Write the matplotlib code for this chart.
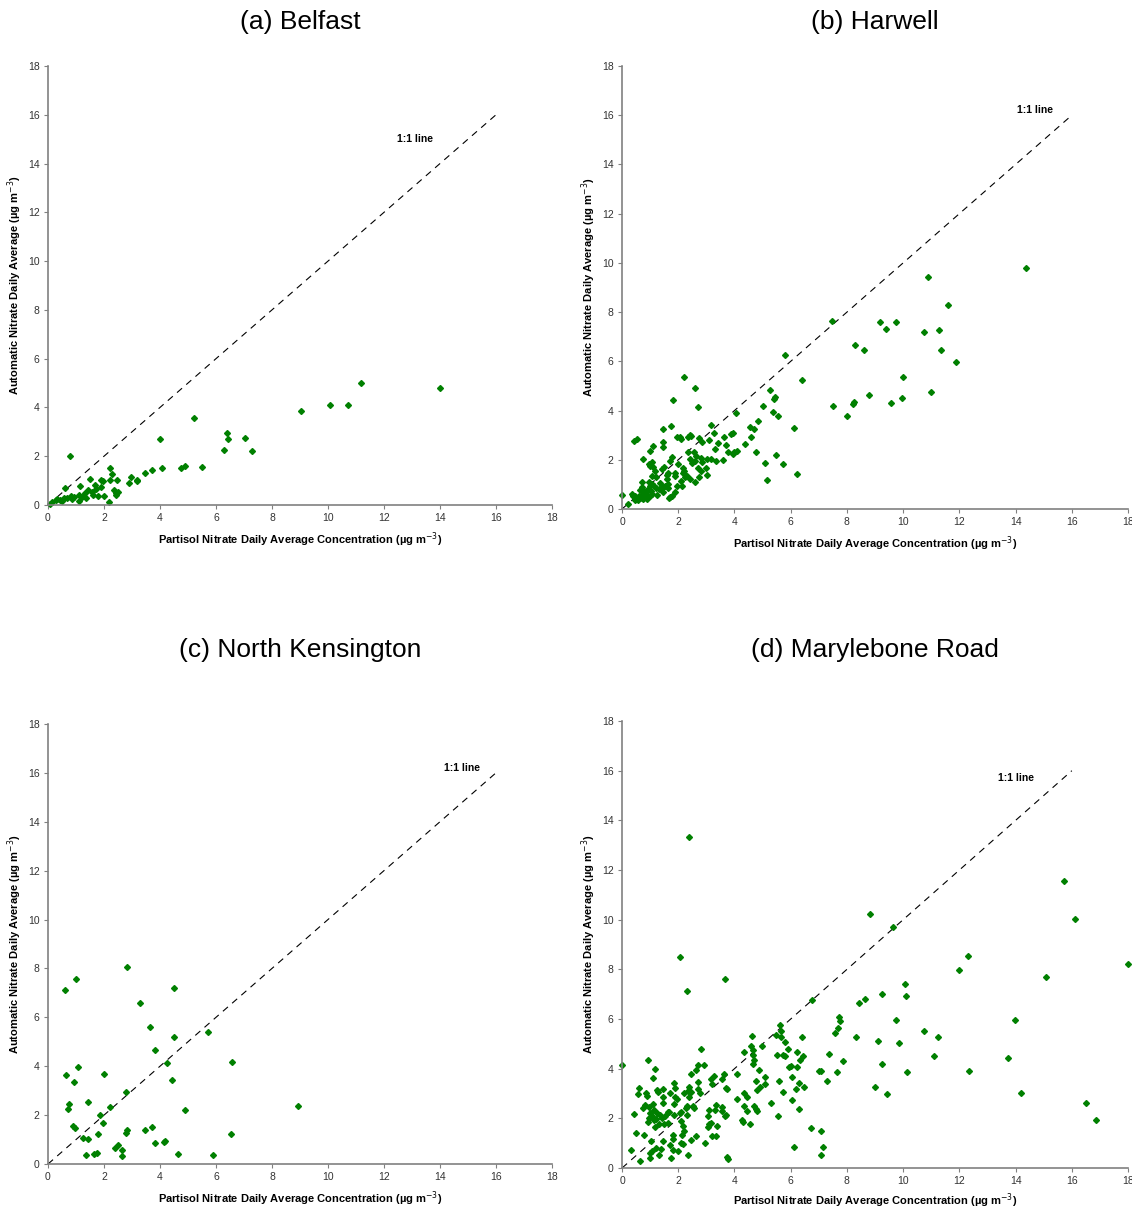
import matplotlib.pyplot as plt

plt.rcParams['font.family'] = ['Liberation Sans', 'DejaVu Sans']

# (a) Belfast
belfast_x = [11.17, 13.99, 9.03, 10.08, 10.73, 5.23, 4.00, 6.40, 6.44, 7.03, 6.29, 7.29,
             0.78, 2.22, 2.28, 2.23, 2.45, 1.49, 1.90, 1.96, 2.95, 3.19, 3.19, 2.88, 3.45,
             3.72, 4.08, 4.74, 4.90, 5.51, 0.61, 1.16, 1.67, 1.89, 1.43, 1.72, 1.56, 2.37,
             2.42, 2.50, 2.43, 1.99, 2.17, 1.77, 1.31, 1.35, 1.11, 1.09, 0.93, 0.81, 0.69,
             0.57, 0.42, 0.27, 0.16, 0.06, 0.33, 0.51, 0.87, 1.21, 1.59]
belfast_y = [4.99, 4.78, 3.86, 4.08, 4.12, 3.55, 2.71, 2.96, 2.71, 2.75, 2.25, 2.23,
             2.00, 1.51, 1.29, 1.01, 1.01, 1.07, 1.04, 1.00, 1.14, 1.03, 0.97, 0.89, 1.30,
             1.42, 1.52, 1.51, 1.60, 1.55, 0.70, 0.77, 0.84, 0.75, 0.62, 0.67, 0.52, 0.62,
             0.48, 0.53, 0.42, 0.38, 0.11, 0.38, 0.48, 0.27, 0.41, 0.18, 0.34, 0.37, 0.27,
             0.27, 0.21, 0.21, 0.14, 0.04, 0.26, 0.18, 0.23, 0.34, 0.41]

# (b) Harwell
harwell_x = [14.37, 10.87, 11.58, 7.47, 9.19, 9.73, 9.40, 10.74, 11.28, 11.34, 8.30, 8.59,
             11.88, 5.79, 6.41, 10.01, 8.79, 10.98, 8.24, 8.21, 7.52, 9.58, 9.96, 8.00,
             2.22, 2.61, 2.70, 1.81, 5.27, 5.39, 5.44, 5.38, 5.54, 5.01, 4.05, 4.83, 4.56,
             4.69, 6.10, 4.60, 4.75, 4.37, 5.10, 5.49, 5.71, 6.22, 5.14, 3.18, 3.27, 3.40,
             3.30, 3.09, 2.86, 2.74, 2.40, 2.34, 2.46, 1.94, 2.10, 1.74, 1.45, 1.44, 1.44,
             1.10, 0.99, 0.42, 0.53, 0.74, 3.64, 3.70, 3.76, 3.88, 3.93, 3.93, 4.00, 4.08,
             3.59, 3.34, 3.16, 3.04, 2.82, 2.86, 2.58, 2.48, 2.40, 2.36, 2.55, 2.62, 2.70,
             2.82, 3.00, 3.02, 2.74, 2.58, 2.41, 2.32, 2.16, 2.20, 2.17, 2.24, 2.15, 2.10,
             1.99, 1.70, 1.79, 1.88, 1.88, 1.94, 1.89, 1.76, 1.66, 1.71, 1.65, 1.65, 1.59,
             1.60, 1.63, 1.48, 1.41, 1.19, 1.22, 1.07, 1.10, 1.01, 1.07, 0.97, 1.08, 1.15,
             1.36, 1.45, 1.31, 1.53, 1.46, 1.25, 1.07, 0.95, 0.98, 0.89, 0.78, 0.71, 0.65,
             0.72, 0.75, 0.59, 0.47, 0.40, 0.36, 0.46, 0.57, 0.65, 0.75, 0.82, 0.87, 0.90,
             0.99, 0.00, 0.21, 2.06, 0.60, 0.85, 1.02, 1.20, 0.70, 0.55]
harwell_y = [9.80, 9.42, 8.30, 7.64, 7.61, 7.61, 7.31, 7.18, 7.26, 6.46, 6.68, 6.46,
             5.96, 6.24, 5.26, 5.38, 4.62, 4.74, 4.35, 4.26, 4.20, 4.31, 4.50, 3.77,
             5.38, 4.93, 4.15, 4.42, 4.85, 4.46, 4.54, 3.96, 3.78, 4.20, 3.92, 3.58, 3.32,
             3.26, 3.28, 2.93, 2.31, 2.65, 1.88, 2.19, 1.82, 1.42, 1.19, 3.42, 3.08, 2.70,
             2.43, 2.80, 2.73, 2.88, 2.99, 2.92, 2.95, 2.93, 2.84, 3.39, 3.23, 2.74, 2.50,
             2.54, 2.34, 2.76, 2.84, 2.05, 2.93, 2.62, 2.32, 3.05, 3.08, 2.23, 2.30, 2.36,
             1.99, 1.96, 2.04, 2.04, 2.07, 1.89, 1.97, 1.86, 2.04, 2.32, 2.32, 2.16, 1.65,
             1.54, 1.66, 1.38, 1.28, 1.11, 1.22, 1.35, 1.66, 1.55, 1.45, 1.32, 0.92, 1.12,
             1.84, 1.97, 2.11, 1.45, 1.36, 0.92, 0.70, 0.54, 0.43, 0.49, 0.85, 1.03, 1.22,
             1.39, 1.46, 1.70, 1.62, 1.54, 1.30, 1.36, 1.69, 1.76, 1.89, 1.84, 1.03, 0.92,
             1.05, 0.89, 0.81, 0.93, 0.70, 0.58, 0.61, 1.11, 0.95, 0.76, 0.65, 0.91, 0.78,
             1.08, 0.72, 0.51, 0.51, 0.54, 0.62, 0.38, 0.35, 0.43, 0.41, 0.49, 0.59, 0.41,
             0.51, 0.55, 0.20, 2.93, 0.45, 0.60, 0.75, 0.85, 0.55, 0.40]

# (c) North Kensington
kensington_x = [2.82, 1.01, 0.61, 4.49, 3.28, 3.66, 4.49, 5.73, 3.81, 4.25, 6.56, 1.06,
                0.66, 2.00, 0.92, 4.44, 2.80, 0.74, 0.73, 1.42, 2.23, 4.90, 8.94, 1.84,
                1.96, 0.91, 0.97, 3.71, 2.82, 2.79, 3.47, 1.78, 6.55, 1.25, 1.43, 4.19,
                4.16, 3.81, 2.49, 2.40, 2.66, 2.65, 1.36, 1.65, 1.74, 4.65, 5.91]
kensington_y = [8.07, 7.58, 7.10, 7.22, 6.58, 5.59, 5.19, 5.38, 4.68, 4.14, 4.19, 3.97,
                3.66, 3.67, 3.34, 3.44, 2.95, 2.45, 2.25, 2.53, 2.32, 2.19, 2.36, 2.01,
                1.67, 1.56, 1.48, 1.53, 1.38, 1.26, 1.40, 1.23, 1.22, 1.08, 1.01, 0.96,
                0.92, 0.84, 0.78, 0.67, 0.56, 0.34, 0.36, 0.40, 0.45, 0.41, 0.37]

# (d) Marylebone Road
marylebone_x = [2.39, 15.71, 16.12, 8.83, 9.63, 17.99, 12.32, 11.97, 2.07, 3.68, 2.30, 15.08,
                10.08, 10.10, 9.26, 6.74, 8.44, 8.65, 13.97, 9.75, 7.71, 7.76, 7.68, 7.59,
                5.62, 5.67, 5.66, 5.48, 5.80, 5.91, 6.39, 8.32, 9.12, 9.86, 10.74, 11.25,
                11.11, 13.73, 12.34, 10.14, 9.23, 7.85, 7.38, 7.66, 7.02, 7.07, 7.29, 9.00,
                9.44, 14.19, 16.50, 16.85, 6.73, 7.08, 7.14, 7.06, 6.12, 6.28, 6.49, 6.28,
                6.20, 6.03, 6.02, 6.24, 6.22, 6.33, 6.45, 5.73, 5.94, 6.03, 5.57, 5.56,
                5.51, 5.73, 5.79, 5.30, 5.09, 5.09, 4.92, 4.86, 4.75, 4.79, 4.99, 4.61,
                4.59, 4.65, 4.67, 4.68, 4.67, 4.69, 4.75, 4.81, 4.55, 4.46, 4.35, 4.33,
                4.45, 4.27, 4.31, 4.35, 4.09, 4.09, 3.75, 3.69, 3.68, 3.69, 3.64, 3.57,
                3.56, 3.56, 3.75, 3.78, 3.39, 3.34, 3.33, 3.32, 3.26, 3.20, 3.15, 3.20,
                3.11, 3.08, 3.06, 3.15, 3.05, 2.96, 2.93, 2.81, 2.79, 2.70, 2.69, 2.69,
                2.64, 2.64, 2.56, 2.53, 2.46, 2.46, 2.46, 2.39, 2.39, 2.36, 2.34, 2.30,
                2.30, 2.29, 2.22, 2.22, 2.16, 2.18, 2.14, 2.10, 2.10, 2.06, 2.10, 1.98,
                1.95, 1.89, 1.90, 1.86, 1.84, 1.84, 1.81, 1.81, 1.80, 1.74, 1.71, 1.70,
                1.68, 1.62, 1.62, 1.52, 1.50, 1.47, 1.47, 1.46, 1.45, 1.38, 1.33, 1.35,
                1.31, 1.27, 1.23, 1.22, 1.21, 1.19, 1.19, 1.13, 1.11, 1.11, 1.07, 1.07,
                1.04, 1.01, 0.99, 0.95, 0.95, 0.92, 0.92, 0.89, 0.87, 0.83, 0.78, 0.74,
                0.62, 0.58, 0.65, 0.51, 0.43, 0.31, 0.00, 1.13, 1.25, 1.01, 1.43]
marylebone_y = [13.32, 11.55, 10.04, 10.23, 9.69, 8.22, 8.52, 7.98, 8.48, 7.63, 7.13, 7.69,
                7.42, 6.93, 7.00, 6.76, 6.65, 6.81, 5.98, 5.95, 6.10, 5.92, 5.65, 5.44,
                5.75, 5.50, 5.28, 5.37, 5.06, 4.80, 5.29, 5.29, 5.11, 5.02, 5.52, 5.28,
                4.51, 4.43, 3.92, 3.88, 4.20, 4.29, 4.60, 3.88, 3.92, 3.89, 3.51, 3.27,
                2.99, 3.04, 2.62, 1.92, 1.63, 1.51, 0.85, 0.54, 0.86, 2.36, 3.28, 3.42,
                3.20, 3.65, 4.12, 4.06, 4.66, 4.36, 4.51, 3.06, 4.08, 2.72, 3.51, 2.10,
                4.54, 4.55, 4.50, 2.61, 3.67, 3.38, 3.28, 3.94, 3.49, 3.14, 4.93, 5.33,
                4.93, 4.76, 4.54, 4.36, 4.20, 2.48, 2.37, 2.31, 1.76, 2.31, 2.50, 3.04,
                2.84, 1.94, 1.84, 4.66, 2.77, 3.78, 3.19, 3.23, 2.10, 2.15, 3.80, 3.59,
                2.45, 2.30, 0.43, 0.38, 1.71, 1.27, 2.53, 2.33, 3.71, 3.38, 3.57, 1.27,
                2.33, 1.76, 1.67, 1.82, 2.09, 1.00, 4.16, 4.79, 3.01, 3.18, 4.15, 3.45,
                3.96, 1.29, 2.42, 2.50, 3.80, 3.07, 1.13, 3.28, 2.84, 3.12, 0.52, 2.48,
                2.15, 2.40, 3.01, 1.49, 1.70, 0.98, 1.33, 1.91, 2.26, 2.21, 1.01, 0.69,
                2.77, 2.88, 3.23, 3.42, 2.58, 2.15, 1.31, 1.17, 0.73, 0.40, 0.94, 3.01,
                2.25, 2.26, 1.80, 2.09, 1.78, 3.20, 2.88, 2.61, 1.10, 0.75, 0.52, 2.13,
                1.78, 3.06, 3.15, 1.99, 0.82, 1.64, 4.00, 1.94, 3.62, 2.57, 2.11, 0.69,
                1.10, 0.62, 0.39, 2.03, 2.45, 4.33, 1.87, 2.91, 3.04, 2.54, 1.33, 2.41,
                3.22, 2.99, 0.28, 1.39, 2.18, 0.71, 4.13, 2.34, 2.21, 2.21, 2.01]

titles = ['(a) Belfast', '(b) Harwell', '(c) North Kensington', '(d) Marylebone Road']
label_pos = [(13.1, 15.0), (14.7, 16.2), (14.8, 16.2), (14.0, 15.7)]
ticks = [0, 2, 4, 6, 8, 10, 12, 14, 16, 18]

fig = plt.figure(figsize=(11.32, 12.09), dpi=100)
boxes = [[0.0424, 0.5823, 0.4452, 0.3631],
         [0.5495, 0.5790, 0.4470, 0.3664],
         [0.0424, 0.0372, 0.4452, 0.3640],
         [0.5495, 0.0339, 0.4470, 0.3697]]
title_y = [0.982, 0.982, 0.4624, 0.4624]
xlabel_gap = [25, 25, 25, 23]
data = [(belfast_x, belfast_y), (harwell_x, harwell_y),
        (kensington_x, kensington_y), (marylebone_x, marylebone_y)]
fig_w, fig_h = 1132, 1209

for box, (xs, ys), title, lp, ty, gap in zip(boxes, data, titles, label_pos, title_y, xlabel_gap):
    ax = fig.add_axes(box)
    ax.plot([0, 16], [0, 16], color='black', lw=0.8, dashes=(6, 5))
    ax.plot(xs, ys, 'D', color='#008000', ms=3, mec='#008000', clip_on=False)
    ax.text(lp[0], lp[1], '1:1 line', fontsize=7.5, fontweight='bold', ha='center', va='center')
    ax.set_xlim(0, 18)
    ax.set_ylim(0, 18)
    ax.set_xticks(ticks)
    ax.set_yticks(ticks)
    for s in ['top', 'right']:
        ax.spines[s].set_visible(False)
    for s in ['left', 'bottom']:
        ax.spines[s].set_color('#808080')
        ax.spines[s].set_linewidth(1.2)
    ax.tick_params(direction='out', length=3, width=0.8, color='#808080',
                   labelsize=7.5, labelcolor='#333333', pad=3)
    ax.set_xlabel('Partisol Nitrate Daily Average Concentration (µg m$^{-3}$)',
                  fontsize=8, fontweight='bold')
    ax.set_ylabel('Automatic Nitrate Daily Average (µg m$^{-3}$)',
                  fontsize=8, fontweight='bold')
    ax.xaxis.set_label_coords(0.5, -gap / (box[3] * fig_h))
    ax.yaxis.set_label_coords(-24 / (box[2] * fig_w), 0.5)
    fig.text(box[0] + box[2] / 2, ty, title, fontsize=19, ha='center', va='center')

fig.savefig('out.png', dpi=100)
